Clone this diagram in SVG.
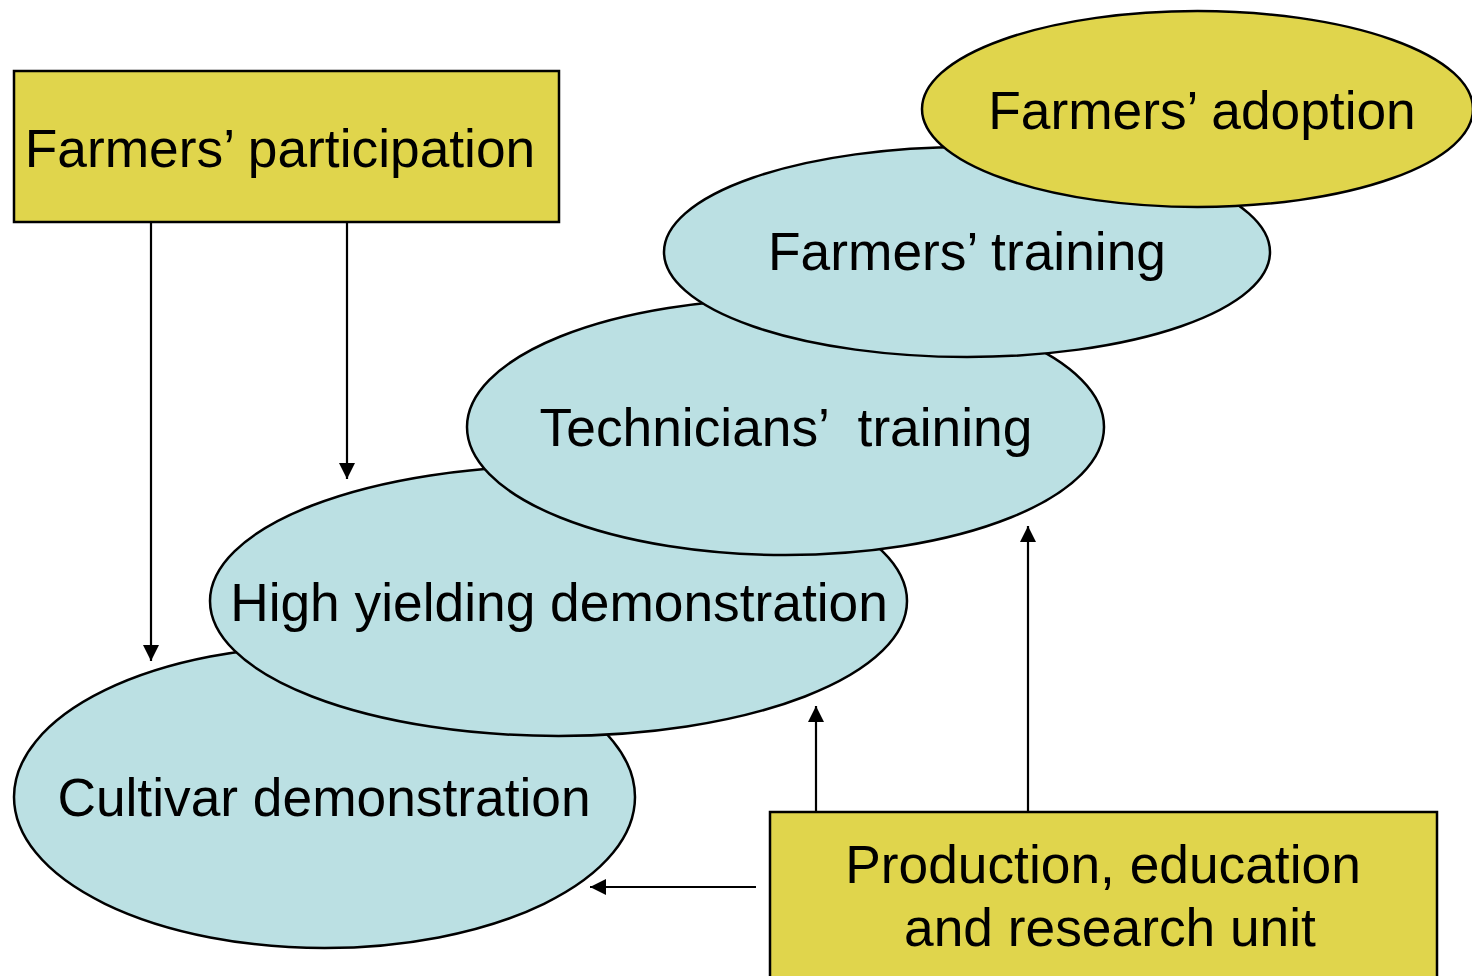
<svg xmlns="http://www.w3.org/2000/svg" width="1472" height="976" viewBox="0 0 1472 976">
  <style>
    .blue { fill: #BBE0E3; stroke: #000; stroke-width: 2.5; }
    .yellow { fill: #E0D54C; stroke: #000; stroke-width: 2.5; }
    .lbl { font-family: "Liberation Sans", Arial, sans-serif; font-size: 53.3px; fill: #000; text-anchor: middle; }
    .conn { stroke: #000; stroke-width: 2.2; fill: none; marker-end: url(#arrow); }
  </style>
  <defs>
    <marker id="arrow" viewBox="0 0 16 16" refX="16" refY="8" markerWidth="16" markerHeight="16" markerUnits="userSpaceOnUse" orient="auto">
      <path d="M0,0 L16,8 L0,16 Z" fill="#000"/>
    </marker>
  </defs>
  <rect width="1472" height="976" fill="#fff"/>

  <g id="cultivar-demonstration">
    <ellipse class="blue" cx="324.5" cy="797" rx="310.5" ry="151"/>
    <text class="lbl" x="324" y="816">Cultivar demonstration</text>
  </g>
  <g id="high-yielding-demonstration">
    <ellipse class="blue" cx="558.5" cy="601" rx="348.5" ry="135"/>
    <text class="lbl" x="559" y="621">High yielding demonstration</text>
  </g>
  <g id="technicians-training">
    <ellipse class="blue" cx="785.5" cy="427" rx="318.5" ry="128"/>
    <text class="lbl" x="786" y="446" xml:space="preserve" style="white-space:pre">Technicians’  training</text>
  </g>
  <g id="farmers-training">
    <ellipse class="blue" cx="967" cy="252" rx="303" ry="105"/>
    <text class="lbl" x="967" y="270">Farmers’ training</text>
  </g>
  <g id="farmers-adoption">
    <ellipse class="yellow" cx="1197.5" cy="109" rx="275.5" ry="98"/>
    <text class="lbl" x="1202" y="129">Farmers’ adoption</text>
  </g>
  <g id="farmers-participation">
    <rect class="yellow" x="14" y="71" width="545" height="151"/>
    <text class="lbl" x="280" y="167">Farmers’ participation</text>
  </g>
  <g id="production-unit">
    <rect class="yellow" x="770" y="812" width="667" height="180"/>
    <text class="lbl" x="1103" y="883">Production, education</text>
    <text class="lbl" x="1110" y="946">and research unit</text>
  </g>

  <g id="connectors">
    <line class="conn" x1="151" y1="222" x2="151" y2="661"/>
    <line class="conn" x1="347" y1="222" x2="347" y2="479"/>
    <line class="conn" x1="816" y1="812" x2="816" y2="706"/>
    <line class="conn" x1="1028" y1="812" x2="1028" y2="526"/>
    <line class="conn" x1="756" y1="887" x2="590" y2="887"/>
  </g>
</svg>
